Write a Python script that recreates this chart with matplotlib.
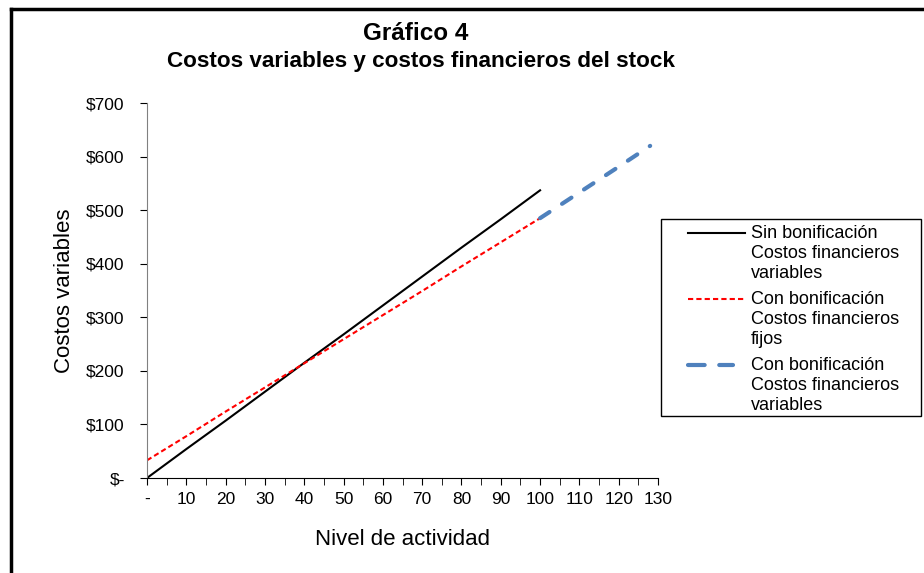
import matplotlib.pyplot as plt
from matplotlib.lines import Line2D
from matplotlib.patches import Rectangle
from matplotlib.ticker import MultipleLocator, FuncFormatter

plt.rcParams['font.family'] = ['Liberation Sans', 'DejaVu Sans']

# nivel de actividad
x_main = [0, 10, 20, 30, 40, 50, 60, 70, 80, 90, 100]
x_ext = [100, 110, 120, 128]

# costos
sin_bonif = [0, 54, 107, 161, 215, 268, 322, 376, 430, 483, 537]
con_bonif_fijos = [33, 78, 124, 169, 214, 259, 304, 349, 395, 440, 485]
con_bonif_var = [485, 533, 581, 620]

labels = [["Sin bonificación", "Costos financieros", "variables"],
          ["Con bonificación", "Costos financieros", "fijos"],
          ["Con bonificación", "Costos financieros", "variables"]]

W, H = 924, 573
fig = plt.figure(figsize=(W / 100, H / 100), dpi=100)
ax = fig.add_axes([147 / W, 1 - 478 / H, 511 / W, 375 / H])

styles = [dict(color="black", lw=1.5),
          dict(color="red", lw=1.5, dashes=(2.5, 1.5)),
          dict(color="#4f81bd", lw=3, dashes=(2.7, 3.6), dash_capstyle="round")]

ax.plot(x_main, sin_bonif, **styles[0])
ax.plot(x_main, con_bonif_fijos, **styles[1])
ax.plot(x_ext, con_bonif_var, **styles[2])

ax.set_xlim(0, 130)
ax.set_ylim(0, 700)
ax.xaxis.set_major_locator(MultipleLocator(10))
ax.xaxis.set_minor_locator(MultipleLocator(5))
ax.yaxis.set_major_locator(MultipleLocator(100))
ax.xaxis.set_major_formatter(FuncFormatter(lambda v, p: "-" if v == 0 else "%d" % v))
ax.yaxis.set_major_formatter(FuncFormatter(lambda v, p: "$-" if v == 0 else "$%d" % v))
ax.tick_params(axis="x", which="major", length=5, labelsize=12.5, pad=5)
ax.tick_params(axis="x", which="minor", length=5)
ax.tick_params(axis="y", length=5, labelsize=12.5, pad=11)

for s in ["top", "right"]:
    ax.spines[s].set_visible(False)
ax.spines["left"].set_color("#808080")

ax.set_xlabel("Nivel de actividad", fontsize=16, labelpad=16)
ax.set_ylabel("Costos variables", fontsize=16, labelpad=8)

fig.text(416 / W, 1 - 33 / H, "Gráfico 4", ha="center", va="center",
         fontsize=17.5, fontweight="bold")
fig.text(421 / W, 1 - 62 / H, "Costos variables y costos financieros del stock",
         ha="center", va="center", fontsize=16.2, fontweight="bold")

# leyenda
leg_styles = [styles[0], styles[1],
              dict(color="#4f81bd", lw=3, dashes=(4, 3.5), dash_capstyle="round")]
fig.add_artist(Rectangle((661 / W, 1 - 416 / H), 260 / W, 197 / H, fill=False,
                         edgecolor="black", lw=1, transform=fig.transFigure))
for i, (st, lab) in enumerate(zip(leg_styles, labels)):
    y0 = 233 + 66 * i
    x1 = 745 if i < 2 else 733
    fig.add_artist(Line2D([688 / W, x1 / W], [1 - y0 / H, 1 - y0 / H],
                          transform=fig.transFigure, **st))
    for j, line in enumerate(lab):
        fig.text(751 / W, 1 - (y0 + 20.5 * j) / H, line, ha="left", va="center",
                 fontsize=13)

# borde del grafico
fig.add_artist(Line2D([10.5 / W, 10.5 / W], [0, 1 - 8.5 / H], color="black", lw=2.5,
                      transform=fig.transFigure))
fig.add_artist(Line2D([10.5 / W, 1], [1 - 8.5 / H, 1 - 8.5 / H], color="black", lw=2.5,
                      transform=fig.transFigure))

fig.savefig("out.png", dpi=100)
